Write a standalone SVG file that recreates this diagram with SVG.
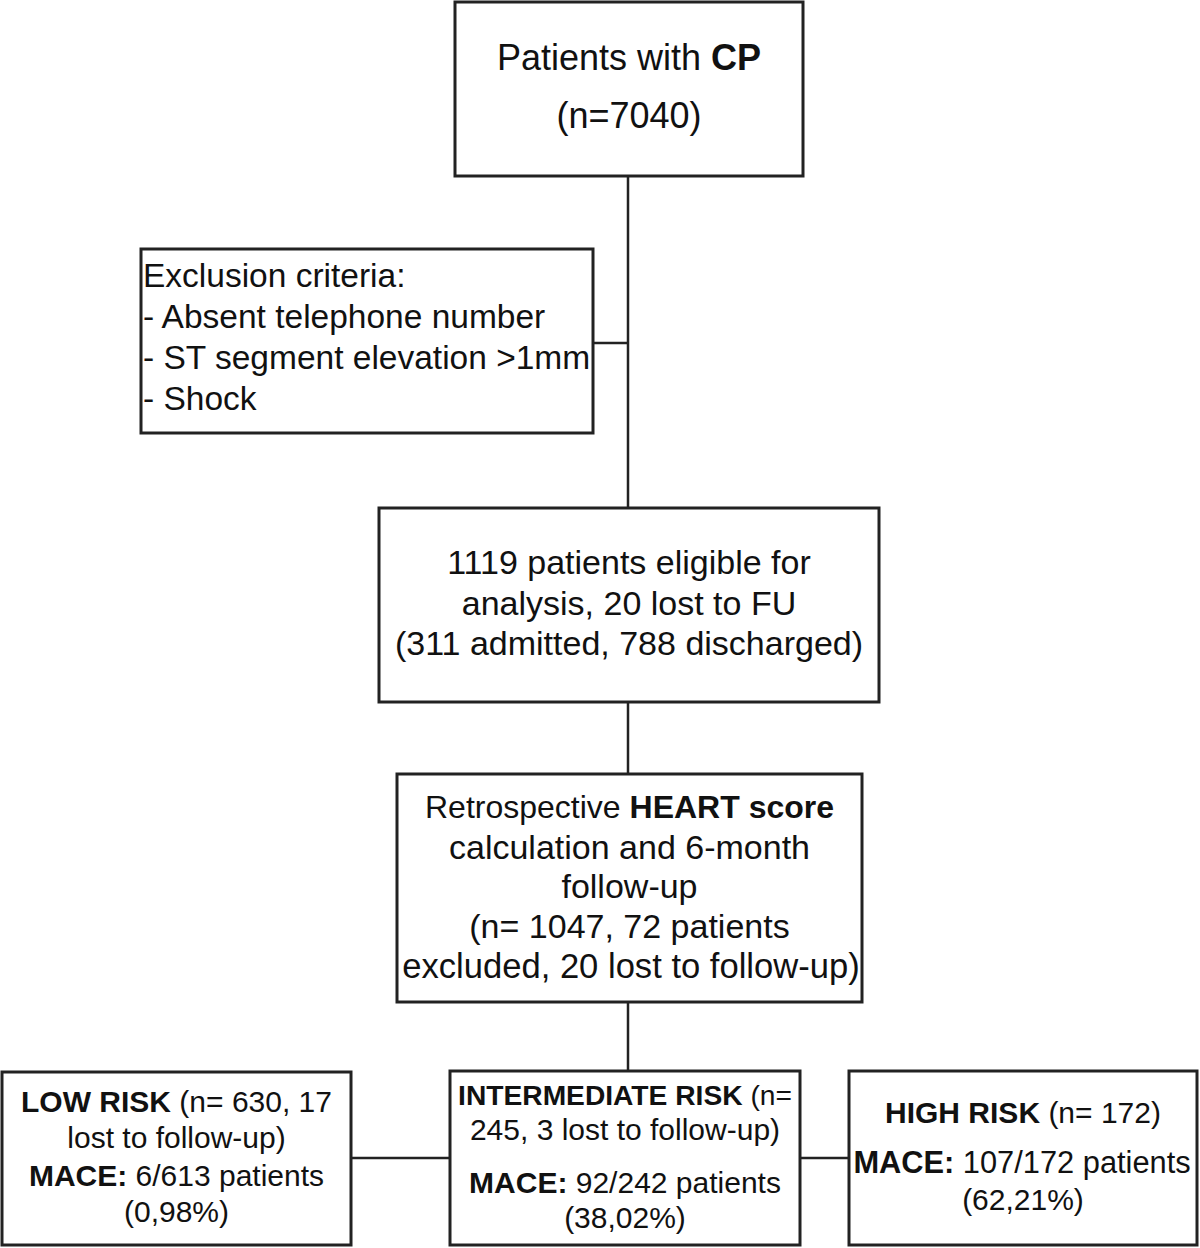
<svg xmlns="http://www.w3.org/2000/svg" width="1200" height="1248" viewBox="0 0 1200 1248">
<style>
.box{fill:#fff;stroke:#222;stroke-width:3}
.ln{stroke:#222;stroke-width:2.5;fill:none}
text{font-family:"Liberation Sans",Arial,sans-serif;fill:#111}
.t{font-size:34px;text-anchor:middle}
.tl{font-size:33.5px}
.s{font-size:30px;text-anchor:middle}
.b{font-weight:bold}
</style>
<rect width="1200" height="1248" fill="#fff"/>
<g id="connectors">
<line class="ln" x1="628" y1="176" x2="628" y2="508"/>
<line class="ln" x1="593" y1="343" x2="628" y2="343"/>
<line class="ln" x1="628" y1="702" x2="628" y2="774"/>
<line class="ln" x1="628" y1="1002" x2="628" y2="1071"/>
<line class="ln" x1="351" y1="1158" x2="450" y2="1158"/>
<line class="ln" x1="800" y1="1158" x2="849" y2="1158"/>
</g>
<g id="n1">
<rect class="box" x="455" y="2" width="348" height="174"/>
<text class="t" x="629" y="70" style="font-size:36px">Patients with <tspan class="b">CP</tspan></text>
<text class="t" x="629" y="128" style="font-size:36px">(n=7040)</text>
</g>
<g id="n2">
<rect class="box" x="141" y="249" width="452" height="184"/>
<text class="tl" x="143" y="287">Exclusion criteria:</text>
<text class="tl" x="143" y="328">- Absent telephone number</text>
<text class="tl" x="143" y="369">- ST segment elevation &gt;1mm</text>
<text class="tl" x="143" y="410">- Shock</text>
</g>
<g id="n3">
<rect class="box" x="379" y="508" width="500" height="194"/>
<text class="t" x="629" y="574">1119 patients eligible for</text>
<text class="t" x="629" y="615">analysis, 20 lost to FU</text>
<text class="t" x="629" y="655">(311 admitted, 788 discharged)</text>
</g>
<g id="n4">
<rect class="box" x="397" y="774" width="465" height="228"/>
<text class="t" x="629.5" y="818" style="font-size:32px">Retrospective <tspan class="b">HEART score</tspan></text>
<text class="t" x="629.5" y="859">calculation and 6-month</text>
<text class="t" x="629.5" y="898">follow-up</text>
<text class="t" x="629.5" y="938">(n= 1047, 72 patients</text>
<text class="t" x="631" y="978" style="font-size:34.6px">excluded, 20 lost to follow-up)</text>
</g>
<g id="n5">
<rect class="box" x="2" y="1072" width="349" height="173"/>
<text class="s" x="176.5" y="1112"><tspan class="b">LOW RISK</tspan> (n= 630, 17</text>
<text class="s" x="176.5" y="1148">lost to follow-up)</text>
<text class="s" x="176.5" y="1186"><tspan class="b">MACE:</tspan> 6/613 patients</text>
<text class="s" x="176.5" y="1222">(0,98%)</text>
</g>
<g id="n6">
<rect class="box" x="450" y="1071" width="350" height="174"/>
<text class="s" x="625" y="1105" style="font-size:28.2px"><tspan class="b">INTERMEDIATE RISK</tspan> (n=</text>
<text class="s" x="625" y="1140">245, 3 lost to follow-up)</text>
<text class="s" x="625" y="1193"><tspan class="b">MACE:</tspan> 92/242 patients</text>
<text class="s" x="625" y="1228">(38,02%)</text>
</g>
<g id="n7">
<rect class="box" x="849" y="1071" width="348" height="174"/>
<text class="s" x="1023" y="1123"><tspan class="b">HIGH RISK</tspan> (n= 172)</text>
<text class="s" x="1022" y="1173" style="font-size:30.8px"><tspan class="b">MACE:</tspan> 107/172 patients</text>
<text class="s" x="1023" y="1210">(62,21%)</text>
</g>
</svg>
